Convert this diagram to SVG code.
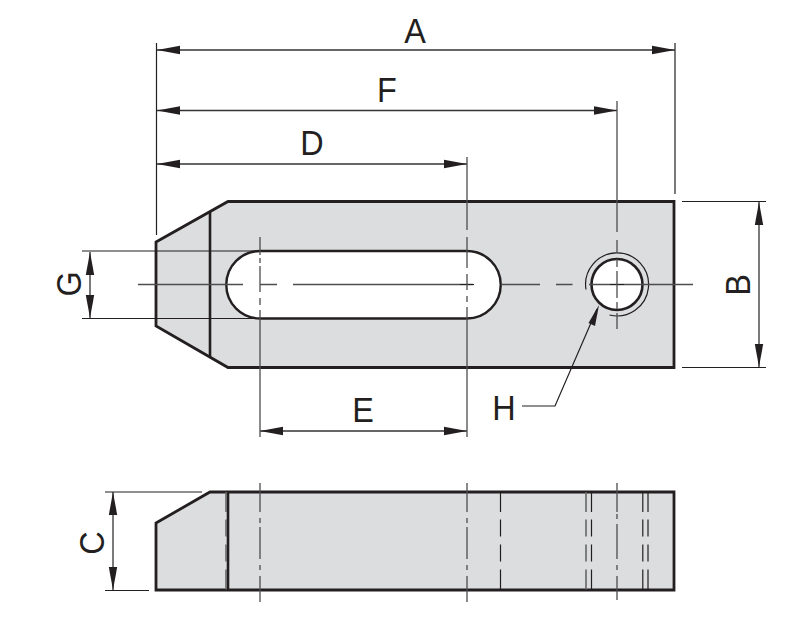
<svg xmlns="http://www.w3.org/2000/svg" width="809" height="622" viewBox="0 0 809 622">
<style>
.body{fill:#dcddde;stroke:#231f20;stroke-width:2.8;stroke-linejoin:miter}
.edge{fill:none;stroke:#231f20;stroke-width:2.6}
.thin{fill:none;stroke:#231f20;stroke-width:1.2}
.dim{fill:none;stroke:#333;stroke-width:1.3;marker-start:url(#a);marker-end:url(#a)}
.ctr{fill:none;stroke:#4d4d4f;stroke-width:1.3}
.hid{fill:none;stroke:#231f20;stroke-width:1.2;stroke-dasharray:20 7.5 17 8 17 8 20}
.lbl{font-family:"Liberation Sans",Arial,sans-serif;font-size:36px;fill:#231f20;text-anchor:middle}
</style>
<defs>
<marker id="a" markerUnits="userSpaceOnUse" markerWidth="24" markerHeight="10" refX="23" refY="5" orient="auto-start-reverse" viewBox="0 0 24 10"><path d="M0 0.8L0 9.2L23 5Z" fill="#231f20"/></marker>
</defs>
<g id="plan-view">
<path class="body" d="M156 242L228 201.5H674V367.5H228L156 326Z"/>
<path d="M260 251H467A33.7 33.7 0 0 1 467 318.5H260A33.7 33.7 0 0 1 260 251Z" fill="#fff" stroke="#231f20" stroke-width="2.4"/>
<path class="edge" d="M210 212V357"/>
<circle cx="617" cy="284.5" r="25.5" fill="#fff" stroke="#231f20" stroke-width="2.6"/>
<path class="thin" d="M586 289.5A31.5 31.5 0 1 1 609.500 315" stroke-width="1.5"/>
</g>
<g id="side-view">
<path class="body" d="M156 523L210 492H674V590H156Z"/>
<path class="edge" d="M228 492V590"/>
<path d="M226 492V590" fill="none" stroke="#666" stroke-width="1.6" stroke-dasharray="20 7.500 17 8 17 8 20"/>
<path class="hid" d="M500.500 492V590M591.500 492V590M642.800 492V590M648 492V590"/>
<path d="M586 492V590" fill="none" stroke="#666" stroke-width="1.6" stroke-dasharray="20 7.500 17 8 17 8 20"/>
</g>
<g id="connectors">
<path class="thin" d="M156.500 43V235"/>
<path class="thin" d="M675 43V194"/>
<path class="dim" d="M157 50H675"/>
<path class="dim" d="M157 110.500H617"/>
<path class="dim" d="M157 164H467"/>
<path class="dim" d="M260 431H467"/>
<path class="dim" d="M759 202V367"/>
<path class="dim" d="M90 252V318"/>
<path class="dim" d="M113 492V590"/>
<path class="thin" d="M682 201.500H766M682 367.500H766"/>
<path class="thin" d="M82 251H260M82 318.500H260"/>
<path class="thin" d="M105 492H202M105 590.500H149"/>
<path class="ctr" d="M138 284.500H243M260 284.500H277M293 284.500H473M501 284.500H540M556 284.500H572.500M589 284.500H693"/>
<path class="thin" d="M460 284.500H474M610 284.500H624"/>
<path class="ctr" d="M260 237V255M260 258V263M260 266V292M260 298V305M260 310V437"/>
<path class="ctr" d="M467 157V230M467 237V268M467 274V290M467 296V302M467 307V437"/>
<path class="ctr" d="M617 101V232M617 240V253M617 259V267M617 271V298M617 302V309M617 313V329"/>
<path class="ctr" d="M260 483V512M260 518V523M260 527V559M260 565V570M260 576V602"/>
<path class="ctr" d="M467 483V512M467 518V523M467 527V559M467 565V570M467 576V602"/>
<path class="ctr" d="M617 483V512M617 514V519M617 524V559M617 565V570M617 576V600"/>
<path class="thin" d="M522 406H555L597 309"/>
<path d="M599 305L588.500 323L595 326Z" fill="#231f20"/>
</g>
<g id="labels">
<text class="lbl" transform="translate(415 43) scale(.9 1)">A</text>
<text class="lbl" transform="translate(387 101.500) scale(.9 1)">F</text>
<text class="lbl" transform="translate(312 155) scale(.9 1)">D</text>
<text class="lbl" transform="translate(363 421.500) scale(.9 1)">E</text>
<text class="lbl" transform="translate(504 420) scale(.9 1)">H</text>
<text class="lbl" transform="translate(81 284) rotate(-90) scale(.9 1)">G</text>
<text class="lbl" transform="translate(750 285) rotate(-90) scale(.9 1)">B</text>
<text class="lbl" transform="translate(104 543) rotate(-90) scale(.9 1)">C</text>
</g>
</svg>
